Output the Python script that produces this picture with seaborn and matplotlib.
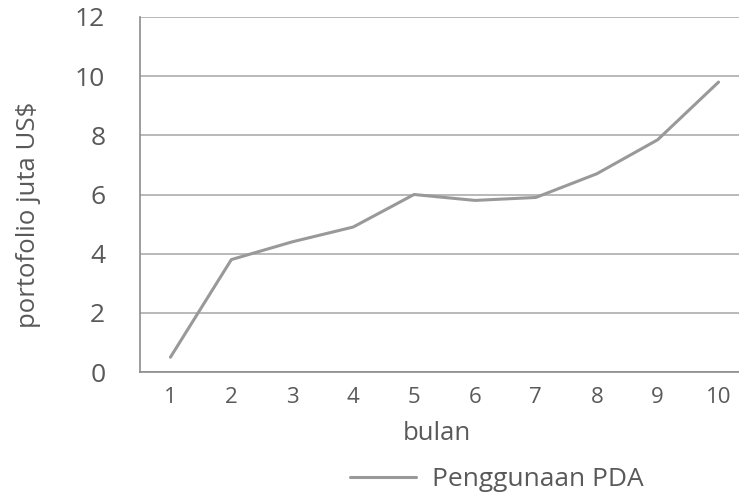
import matplotlib
matplotlib.use("Agg")
import matplotlib.pyplot as plt
import numpy as np
import pandas as pd
import seaborn as sns

# ── Data ─────────────────────────────────────────────────────────────────────
bulan = [1, 2, 3, 4, 5, 6, 7, 8, 9, 10]
portofolio = [0.5, 3.8, 4.4, 4.9, 6.0, 5.8, 5.9, 6.7, 7.85, 9.8]
series_name = "Penggunaan PDA"

df = pd.DataFrame({"bulan": bulan, "portofolio": portofolio, "seri": series_name})

# ── Style ────────────────────────────────────────────────────────────────────
sns.set_style("white")
plt.rcParams["font.family"] = ["Open Sans", "DejaVu Sans"]

text_c = "#595959"
line_c = "#999999"
grid_c = "#b3b3b3"
axis_c = "#8c8c8c"

# plot area runs a little past the right edge of the picture (cropped original)
left_px, right_px, top_px, bottom_px = 140, 749, 17, 372
w_px = right_px - left_px
h_px = bottom_px - top_px

fig = plt.figure(figsize=(7.39, 4.96), dpi=100)
ax = fig.add_axes([left_px / 739, 1 - bottom_px / 496, w_px / 739, h_px / 496])

sns.lineplot(data=df, x="bulan", y="portofolio", hue="seri", palette=[line_c],
             linewidth=2.2, ax=ax, legend=True)

ax.set_xlim(0.5, 10.5)
ax.set_ylim(0, 12)
ax.set_yticks(np.arange(0, 13, 2))
ax.set_xticks(bulan)
ax.set_xticks(np.arange(0.5, 11, 1), minor=True)
ax.yaxis.grid(True, color=grid_c, linewidth=1.3)
ax.set_axisbelow(True)

for side in ["top", "right"]:
    ax.spines[side].set_visible(False)
for side in ["left", "bottom"]:
    ax.spines[side].set_color(axis_c)
    ax.spines[side].set_linewidth(1.2)

ax.tick_params(axis="y", which="major", length=5, width=1, color=axis_c,
               labelsize=19, labelcolor=text_c, pad=20)
ax.tick_params(axis="x", which="major", length=0, labelsize=16,
               labelcolor=text_c, pad=11)
ax.tick_params(axis="x", which="minor", length=5, width=1, color=axis_c)

ax.set_xlabel("bulan", fontsize=18.5, color=text_c)
ax.set_ylabel("portofolio juta US$", fontsize=18.5, color=text_c)
ax.xaxis.set_label_coords((437 - left_px) / w_px, -(421 - bottom_px) / h_px)
ax.yaxis.set_label_coords(-(left_px - 41) / w_px, (bottom_px - 215) / h_px)

handles, labels = ax.get_legend_handles_labels()
ax.get_legend().remove()
fig.legend(handles, labels, loc="center", bbox_to_anchor=(497 / 739, 1 - 480 / 496),
           frameon=False, fontsize=19, labelcolor=text_c, handlelength=2.5,
           handletextpad=0.6)

fig.savefig("out.png", dpi=100)
plt.close(fig)
